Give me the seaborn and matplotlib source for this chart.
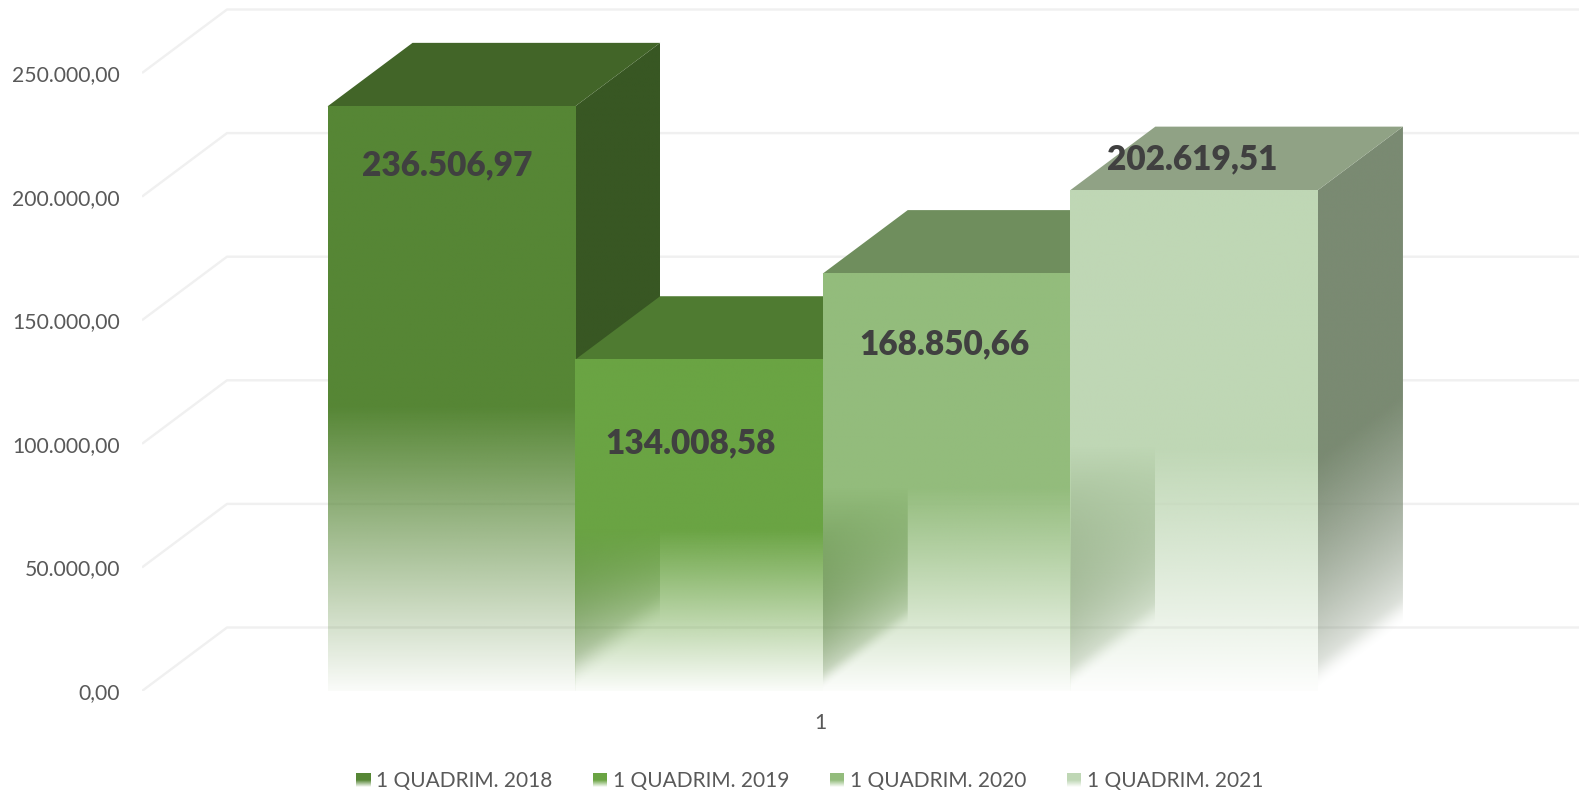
import numpy as np
import pandas as pd
import matplotlib
matplotlib.use("Agg")
import matplotlib.pyplot as plt
from matplotlib.colors import to_rgb
from matplotlib.legend_handler import HandlerBase
from matplotlib.patches import Patch, Polygon, Rectangle
import seaborn as sns

series = ["1 QUADRIM. 2018", "1 QUADRIM. 2019", "1 QUADRIM. 2020", "1 QUADRIM. 2021"]
values = [236506.97, 134008.58, 168850.66, 202619.51]
category = ["1", "1", "1", "1"]
yticks = [0, 50000, 100000, 150000, 200000, 250000]

front_colors = ["#568635", "#6aa443", "#93bc7c", "#bfd7b5"]
top_colors = ["#426528", "#4f7b31", "#6f8e5d", "#90a285"]
side_colors = ["#385723", "#466d2c", "#62804f", "#7a8a72"]

W, H = 1579, 792
x0_px, y0_px = 142, 691      # front corner of the zero line
px_per_50k = 123.6
px_per_cat = 1238
center_px = 822.75
depth_px = (85, 63.5)
fade = 0.50                  # share of the front face that fades out
fade_side = 0.46


def br(v):
    return f"{v:,.2f}".replace(",", "X").replace(".", ",").replace("X", ".")


sns.set_theme(style="white")
plt.rcParams["font.family"] = ["Lato", "DejaVu Sans"]

df = pd.DataFrame({"periodo": category, "serie": series, "valor": values})

fig = plt.figure(figsize=(W / 100, H / 100), dpi=100)
ax = fig.add_axes([x0_px / W, (H - y0_px) / H, (W - x0_px) / W, y0_px / H])
sns.barplot(data=df, x="periodo", y="valor", hue="serie", palette=front_colors,
            width=0.8, gap=0, legend=False, ax=ax)

xlim = ((x0_px - center_px) / px_per_cat, (W - center_px) / px_per_cat)
ylim = (0, y0_px / px_per_50k * 50000)
dx = depth_px[0] / px_per_cat
dy = depth_px[1] / px_per_50k * 50000

# back wall lines
for t in yticks:
    ax.plot([xlim[0], xlim[0] + dx, xlim[1]], [t, t + dy, t + dy],
            color="#f0f0f0", lw=1.7, zorder=0, solid_capstyle="butt")


def face(color, extent, alpha, zorder, clip=None):
    rgba = np.ones(alpha.shape + (4,))
    rgba[..., :3] = to_rgb(color)
    rgba[..., 3] = alpha
    im = ax.imshow(rgba, extent=extent, origin="lower", aspect="auto",
                   interpolation="bilinear", zorder=zorder)
    if clip is not None:
        im.set_clip_path(Polygon(clip, transform=ax.transData))
    return im


bars = [b for b in ax.patches if b.get_height() > 0]
for i, b in enumerate(bars):
    x1, x2, h = b.get_x(), b.get_x() + b.get_width(), b.get_height()
    b.set_facecolor("none")
    b.set_edgecolor("none")
    z = 2 + i * 3

    # side face, fading along the sheared bottom edge, soft at the very bottom
    tt, yy = np.meshgrid(np.linspace(0, 1, 80), np.linspace(0, h + dy, 600))
    u = np.clip((yy - tt * dy) / (fade_side * h), 0, 1)
    s = np.clip(u / 0.14, 0, 1)
    a_side = u ** 0.65 * (3 * s ** 2 - 2 * s ** 3)
    face(side_colors[i], (x2, x2 + dx, 0, h + dy), a_side, z,
         clip=[(x2, 0), (x2 + dx, dy), (x2 + dx, h + dy), (x2, h)])

    # top face
    ax.add_patch(Polygon([(x1, h), (x1 + dx, h + dy), (x2 + dx, h + dy), (x2, h)],
                         facecolor=top_colors[i], edgecolor="none", zorder=z + 1))

    # front face
    yy = np.linspace(0, 1, 400).reshape(-1, 1)
    a_front = np.clip(0.03 + yy / fade, 0, 1)
    face(front_colors[i], (x1, x2, 0, h), a_front, z + 2)

# value labels, placed by hand in the original
label_offsets = [(-4, -59), (-8, -84), (-2, -71), (-2, 31)]
for b, v, off in zip(bars, values, label_offsets):
    ax.annotate(br(v), (b.get_x() + b.get_width() / 2, b.get_height()), xytext=off,
                textcoords="offset pixels", ha="center", va="center",
                fontsize=24, fontweight="heavy", color="#404040", zorder=40)

ax.set_xlim(xlim)
ax.set_ylim(ylim)
ax.set_yticks(yticks)
ax.set_yticklabels([br(t) for t in yticks])
ax.set_xticks([-2 / px_per_cat])
ax.set_xticklabels(["1"])
ax.set_xlabel("")
ax.set_ylabel("")
ax.tick_params(axis="y", length=0, pad=16, labelsize=15.2, labelcolor="#595959")
ax.tick_params(axis="x", length=0, pad=16, labelsize=15.2, labelcolor="#595959")
sns.despine(ax=ax, left=True, bottom=True)
ax.patch.set_alpha(0)


class FadeHandler(HandlerBase):
    def create_artists(self, legend, orig, xd, yd, width, height, fontsize, trans):
        out = []
        n = 14
        for k in range(n):
            a = min(1, (k + 0.5) / n / 0.5)
            out.append(Rectangle((-xd, -yd + height * k / n), width, height / n,
                                 facecolor=orig.get_facecolor(), alpha=a,
                                 edgecolor="none", antialiased=False, transform=trans))
        return out


handles = [Patch(facecolor=c, label=s) for c, s in zip(front_colors, series)]
fig.legend(handles=handles, loc="center", bbox_to_anchor=(810 / W, (H - 781) / H),
           ncols=4, frameon=False, fontsize=15, labelcolor="#595959",
           handler_map={Patch: FadeHandler()}, handlelength=0.68, handleheight=0.68,
           handletextpad=0.28, columnspacing=1.95)

fig.savefig("out.png", dpi=100)
